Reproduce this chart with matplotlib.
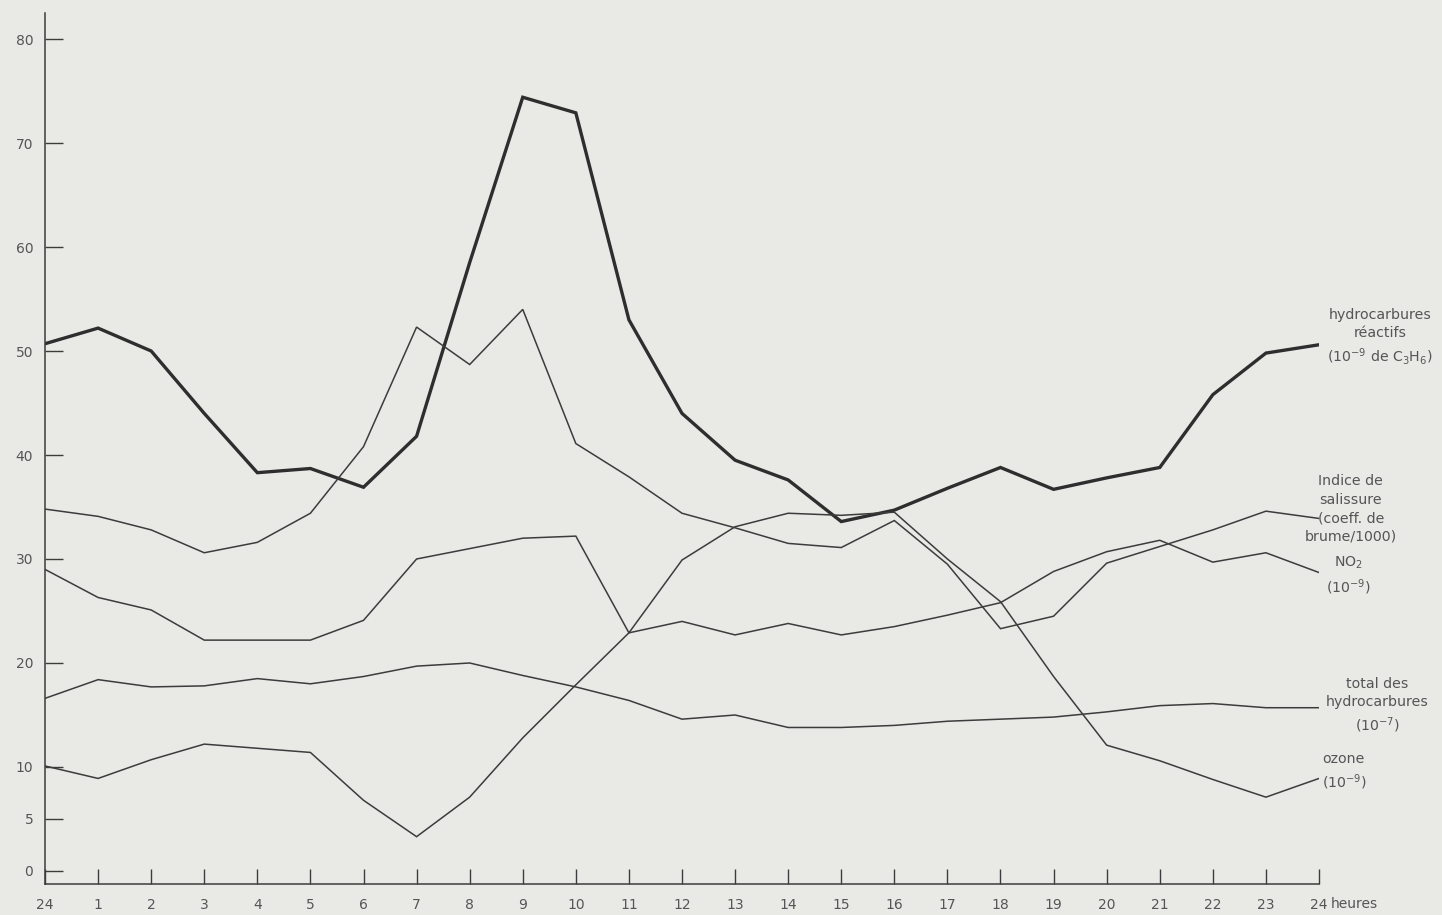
import matplotlib
matplotlib.use("Agg")
import matplotlib.pyplot as plt
import matplotlib.transforms as mtransforms

# ---- data (hours 0..24) ----
hours = list(range(25))
hour_labels = ["24"] + [str(h) for h in range(1, 24)] + ["24"]
y_ticks = [0, 5, 10, 20, 30, 40, 50, 60, 70, 80]

reactive_hc = [50.7, 52.2, 50.0, 44.0, 38.3, 38.7, 36.9, 41.8, 58.5, 74.4, 72.9, 53.0,
               44.0, 39.5, 37.6, 33.6, 34.7, 36.8, 38.8, 36.7, 37.8, 38.8, 45.8, 49.8, 50.6]
smog_index = [34.8, 34.1, 32.8, 30.6, 31.6, 34.4, 40.8, 52.3, 48.7, 54.0, 41.1, 37.9,
              34.4, 33.0, 31.5, 31.1, 33.7, 29.5, 23.3, 24.5, 29.6, 31.2, 32.8, 34.6, 33.9]
no2 = [29.0, 26.3, 25.1, 22.2, 22.2, 22.2, 24.1, 30.0, 31.0, 32.0, 32.2, 22.9,
       24.0, 22.7, 23.8, 22.7, 23.5, 24.6, 25.8, 28.8, 30.7, 31.8, 29.7, 30.6, 28.7]
total_hc = [16.6, 18.4, 17.7, 17.8, 18.5, 18.0, 18.7, 19.7, 20.0, 18.8, 17.7, 16.4,
            14.6, 15.0, 13.8, 13.8, 14.0, 14.4, 14.6, 14.8, 15.3, 15.9, 16.1, 15.7, 15.7]
ozone = [10.1, 8.9, 10.7, 12.2, 11.8, 11.4, 6.8, 3.3, 7.1, 12.8, 17.9, 22.9,
         29.9, 33.1, 34.4, 34.2, 34.5, 30.0, 25.9, 18.7, 12.1, 10.6, 8.8, 7.1, 8.9]

label_reactive = "hydrocarbures\nréactifs\n(10$^{-9}$ de C$_3$H$_6$)"
label_smog = "Indice de\nsalissure\n(coeff. de\nbrume/1000)"
label_no2 = "NO$_2$\n(10$^{-9}$)"
label_total = "total des\nhydrocarbures\n(10$^{-7}$)"
label_ozone = "ozone\n(10$^{-9}$)"
unit_label = "heures"

# ---- style ----
bg = "#e9e9e6"
ink = "#3c3c3c"
txt = "#555555"

fig = plt.figure(figsize=(14.42, 9.15), dpi=100, facecolor=bg)
ax = fig.add_axes([45 / 1442, 31 / 915, (1319 - 45) / 1442, (884 - 13) / 915])
ax.set_facecolor(bg)

ax.plot(hours, reactive_hc, color="#2e2e2e", lw=2.4, solid_joinstyle="miter")
for series in (smog_index, no2, total_hc, ozone):
    ax.plot(hours, series, color=ink, lw=1.1, solid_joinstyle="miter")

ax.set_xlim(0, 24)
ax.set_ylim(-1.25, 82.5)

for s in ("top", "right"):
    ax.spines[s].set_visible(False)
for s in ("left", "bottom"):
    ax.spines[s].set_color(ink)
    ax.spines[s].set_linewidth(1.1)

ax.set_xticks(hours)
ax.set_xticklabels(hour_labels)
ax.set_yticks(y_ticks)
ax.set_yticklabels([str(v) for v in y_ticks])
ax.tick_params(axis="y", direction="in", length=13, width=1.0, color=ink,
               labelsize=10, labelcolor=txt, pad=8.5)
ax.tick_params(axis="x", direction="in", length=10.5, width=1.0, color=ink,
               labelsize=10, labelcolor=txt, pad=10)

trans = mtransforms.blended_transform_factory(ax.transData, ax.transAxes)
ax.text(24, 0, unit_label,
        transform=trans + mtransforms.ScaledTranslation(0.12, -0.205, fig.dpi_scale_trans),
        ha="left", va="center", fontsize=10, color=txt, clip_on=False)

kw = dict(fontsize=10.2, color=txt, clip_on=False, linespacing=1.4)
ax.text(25.15, 51.3, label_reactive, ha="center", va="center", **kw)
ax.text(24.6, 34.8, label_smog, ha="center", va="center", **kw)
ax.text(24.55, 28.4, label_no2, ha="center", va="center", **kw)
ax.text(25.1, 15.9, label_total, ha="center", va="center", **kw)
ax.text(24.06, 9.5, label_ozone, ha="left", va="center", **kw)

fig.savefig("out.png", dpi=100, facecolor=bg)
